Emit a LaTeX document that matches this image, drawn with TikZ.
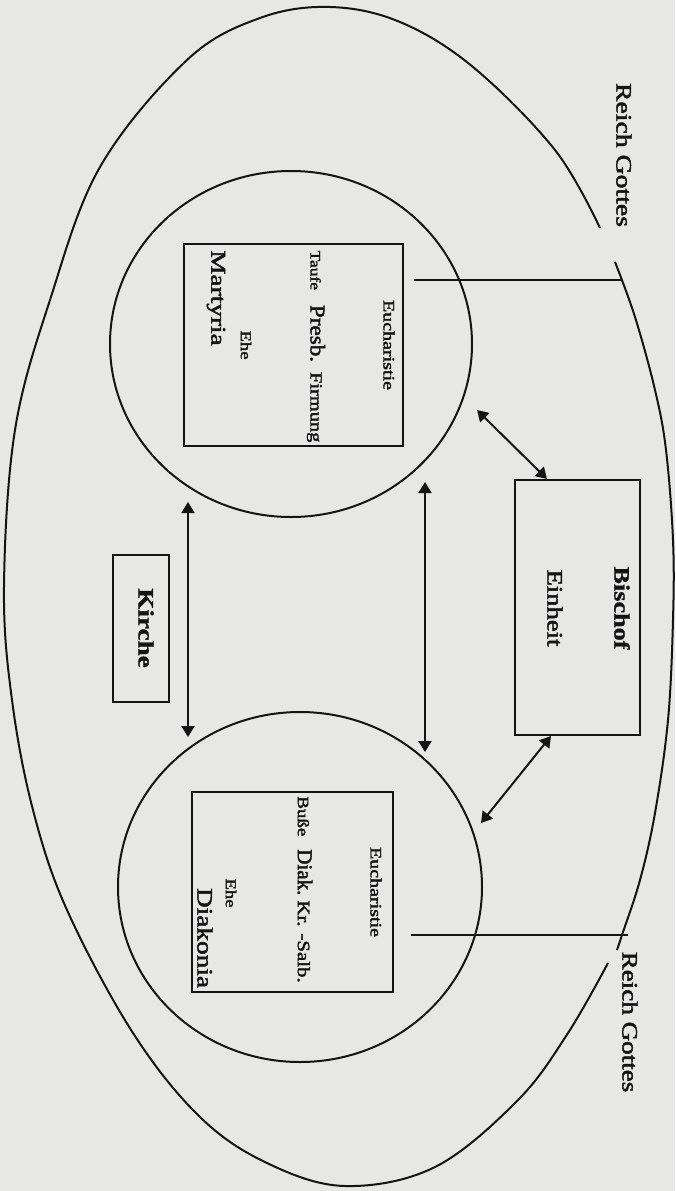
\documentclass[tikz,border=0pt]{standalone}
\usepackage{fontspec}
\setmainfont{Liberation Serif}[FakeBold=2, BoldFeatures={FakeBold=1.2}]
\usetikzlibrary{arrows.meta,shapes.geometric,calc}
\definecolor{paper}{RGB}{231,231,229}
\definecolor{inkc}{RGB}{20,20,20}
% horizontal stretch of a word, font size shortcut
\newcommand\stretchtext[2][1.22]{\scalebox{#1}[1]{#2}}
\newcommand\setsz[1]{\fontsize{#1}{#1}\selectfont}
\begin{document}
\begin{tikzpicture}[x=1pt,y=-1pt,
  ink/.style={draw=inkc, line width=2pt},
  ring/.style={ink, ellipse, inner sep=0pt},
  box/.style={ink, rectangle, inner sep=0pt},
  lbl/.style={rotate=-90, inner sep=0pt, text=inkc},
  link/.style={draw=inkc, line width=2pt},
  both/.style={link, {Triangle[width=13pt,length=11pt]}-{Triangle[width=13pt,length=11pt]}},
]
\fill[paper] (0,0) rectangle (675,1191);
\useasboundingbox (0,0) rectangle (675,1191);

% outer boundary: Reich Gottes
\draw[ink, line join=round] plot[smooth, tension=0.6] coordinates {
  (600,228) (555,150) (473,67) (400,22) (330,7) (260,18) (187,60)
  (100,167) (50,300) (15,430) (4,587) (12,700) (33,810) (67,910)
  (133,1033) (200,1117) (267,1163) (345,1186) (435,1167) (518,1100)
  (568,1033) (608,963)};
\draw[ink] plot[smooth, tension=0.6] coordinates {
  (615,262) (635,317) (655,390) (666,450) (673,540) (673,620)
  (668,720) (655,813) (640,880) (622,935) (617,950)};

% the two circles
\node[ring, minimum width=362pt, minimum height=346pt] (upC) at (291,344) {};
\node[ring, minimum width=364pt, minimum height=350pt] (loC) at (300,887) {};

% boxes
\node[box, minimum width=219pt, minimum height=202pt] (martBox) at (293.5,345) {};
\node[box, minimum width=201pt, minimum height=200pt] (diakBox) at (292.5,892) {};
\node[box, minimum width=56pt, minimum height=147pt] (kirBox) at (141,628.5) {};
\node[box, minimum width=125pt, minimum height=255pt] (bisBox) at (577.5,607.5) {};

% labels
\node[lbl, font=\setsz{22}] (rgTop) at (624,155) {\stretchtext[1.26]{Reich Gottes}};
\node[lbl, font=\setsz{22}] (rgBot) at (630,1022) {\stretchtext[1.23]{Reich Gottes}};

\node[lbl, font=\setsz{21}] (mart) at (216,298) {\stretchtext[1.3]{Martyria}};
\node[lbl, font=\setsz{15}] (eheU) at (246,345) {\stretchtext[1.25]{Ehe}};
\node[lbl] (sakU) at (316,346.5) {\setsz{14.5}\stretchtext[1.2]{Taufe}\hspace{15pt}\setsz{21}\stretchtext[1.1]{Presb.}\hspace{10pt}\setsz{17}\stretchtext[1.2]{Firmung}};
\node[lbl, font=\setsz{16}] (euchU) at (389,345) {\stretchtext[1.25]{Eucharistie}};

\node[lbl, font=\setsz{22}] (diak) at (205,938) {\stretchtext[1.24]{Diakonia}};
\node[lbl, font=\setsz{15}] (eheL) at (231,893) {\stretchtext[1.25]{Ehe}};
\node[lbl] (sakL) at (305,889.5) {\setsz{15.8}\stretchtext[1.2]{Buße}\hspace{13pt}\setsz{21}\stretchtext[1.0]{Diak.}\hspace{5pt}\setsz{17.4}\stretchtext[1.2]{Kr. -Salb.}};
\node[lbl, font=\setsz{16}] (euchL) at (376,892) {\stretchtext[1.25]{Eucharistie}};

\node[lbl, font=\bfseries\setsz{22}] (kir) at (146,628) {\stretchtext[1.235]{Kirche}};
\node[lbl, font=\bfseries\setsz{22}] (bis) at (622,608) {\stretchtext[1.19]{Bischof}};
\node[lbl, font=\setsz{22}] (ein) at (555,608) {\stretchtext[1.21]{Einheit}};

% ends of the connectors
\coordinate (rgU) at (622,280);
\coordinate (rgL) at (628,935);
\coordinate (kL1) at (188,502);
\coordinate (kL2) at (188,737);
\coordinate (kR1) at (425,482);
\coordinate (kR2) at (425,752);
\coordinate (cU) at (477,410);
\coordinate (cL) at (481,823);

% lines to the Reich Gottes boundary
\draw[link] ([xshift=10pt]martBox.east |- rgU) -- (rgU);
\draw[link] ([xshift=17pt]diakBox.east |- rgL) -- (rgL);

% arrows between the circles and to the Bischof box
\draw[both] (kL1) -- (kL2);
\draw[both] (kR1) -- (kR2);
\draw[both] (cU) -- ($(bisBox.north west)+(33,0)$);
\draw[both] ($(bisBox.south west)+(37,0)$) -- (cL);
\end{tikzpicture}
\end{document}
